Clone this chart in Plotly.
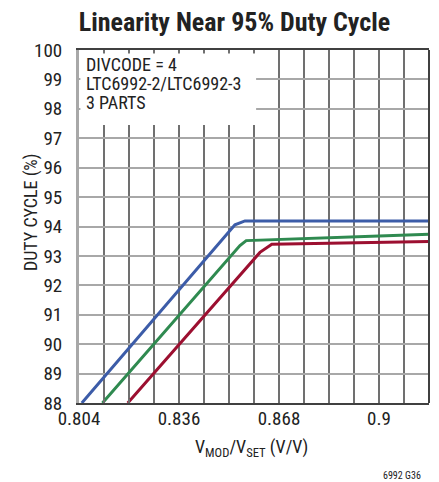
import plotly.graph_objects as go

# ---- data ----
blue_x = [0.8049, 0.8539, 0.8571, 0.8800, 0.9000, 0.9160]
blue_y = [88.00, 94.06, 94.19, 94.18, 94.19, 94.19]

green_x = [0.8115, 0.8555, 0.8575, 0.8700, 0.8850, 0.9000, 0.9160]
green_y = [88.00, 93.35, 93.52, 93.56, 93.62, 93.68, 93.74]

red_x = [0.8196, 0.8619, 0.8657, 0.8800, 0.9000, 0.9160]
red_y = [88.00, 93.12, 93.40, 93.43, 93.47, 93.49]

x_tickvals = [0.804, 0.812, 0.820, 0.828, 0.836, 0.844, 0.852, 0.860,
              0.868, 0.876, 0.884, 0.892, 0.900, 0.908, 0.916]
x_ticktext = ["0.804", "", "", "", "0.836", "", "", "",
              "0.868", "", "", "", "0.9", "", ""]
y_tickvals = [88, 89, 90, 91, 92, 93, 94, 95, 96, 97, 98, 99, 100]
y_ticktext = [str(v) for v in y_tickvals]

box_lines = ["DIVCODE = 4", "LTC6992-2/LTC6992-3", "3 PARTS"]

FONT = "Liberation Sans Narrow, Arial Narrow, Roboto Condensed, Liberation Sans, sans-serif"
TXT = "#222"

fig = go.Figure()
for xs, ys, col in [(red_x, red_y, "#9c0f30"),
                    (green_x, green_y, "#2f8a50"),
                    (blue_x, blue_y, "#3c5ca8")]:
    fig.add_trace(go.Scatter(x=xs, y=ys, mode="lines",
                             line=dict(color=col, width=3),
                             showlegend=False, hoverinfo="skip"))

# page body has an 8px margin, so the figure is sized/offset to compensate
fig.update_layout(
    width=431, height=474,
    margin=dict(l=71, r=10, t=42, b=79, autoexpand=False),
    paper_bgcolor="white", plot_bgcolor="white",
    font=dict(family=FONT, size=18, color=TXT),
    title=dict(text="<b>Linearity Near 95% Duty Cycle</b>",
               x=0.5255, xanchor="center", y=0.99, yanchor="top",
               font=dict(family=FONT, size=26, color=TXT)),
    xaxis=dict(range=[0.804, 0.916], tickmode="array",
               tickvals=x_tickvals, ticktext=x_ticktext,
               showgrid=True, gridcolor="#707070", gridwidth=1.6,
               zeroline=False, showline=True, linecolor="#404040",
               linewidth=2, mirror=True, automargin=False,
               ticks="inside", ticklen=4, tickcolor="#707070", tickwidth=1.6,
               ticklabelstandoff=-3,
               tickfont=dict(size=19)),
    yaxis=dict(range=[88, 100], tickmode="array",
               tickvals=y_tickvals, ticktext=y_ticktext,
               showgrid=True, gridcolor="#a8a8a8", gridwidth=2,
               zeroline=False, showline=True, linecolor="#a8a8a8",
               linewidth=3, mirror=False, ticks="", automargin=False,
               ticklabelstandoff=10,
               tickfont=dict(size=19)),
)

# axis titles
fig.add_annotation(xref="paper", yref="paper", x=-0.137, y=0.541,
                   xanchor="center", yanchor="middle", textangle=-90,
                   showarrow=False, text="DUTY CYCLE (%)",
                   font=dict(family=FONT, size=18, color=TXT))
fig.add_annotation(xref="paper", yref="paper", x=0.493, y=-0.128,
                   xanchor="center", yanchor="middle", showarrow=False,
                   text="V<sub>MOD</sub>/V<sub>SET</sub> (V/V)",
                   font=dict(family=FONT, size=18, color=TXT))

# right border (dark)
fig.add_shape(type="line", xref="paper", yref="paper", x0=1, x1=1, y0=0, y1=1,
              line=dict(color="#404040", width=2))

# white label box covering the grid
fig.add_shape(type="rect", xref="paper", yref="paper",
              x0=0.004, x1=0.506, y0=0.7875, y1=0.99,
              fillcolor="white", line=dict(width=0), layer="above")
for txt, yy in zip(box_lines, [0.958, 0.905, 0.851]):
    fig.add_annotation(xref="paper", yref="paper", x=0.015, y=yy,
                       xanchor="left", yanchor="middle", align="left",
                       showarrow=False, text=txt,
                       font=dict(family=FONT, size=18, color=TXT))

fig.add_annotation(xref="paper", yref="paper", x=0.983, y=-0.205,
                   xanchor="right", yanchor="middle", showarrow=False,
                   text="6992 G36", font=dict(family=FONT, size=10, color=TXT))

fig.write_html("out.html")
